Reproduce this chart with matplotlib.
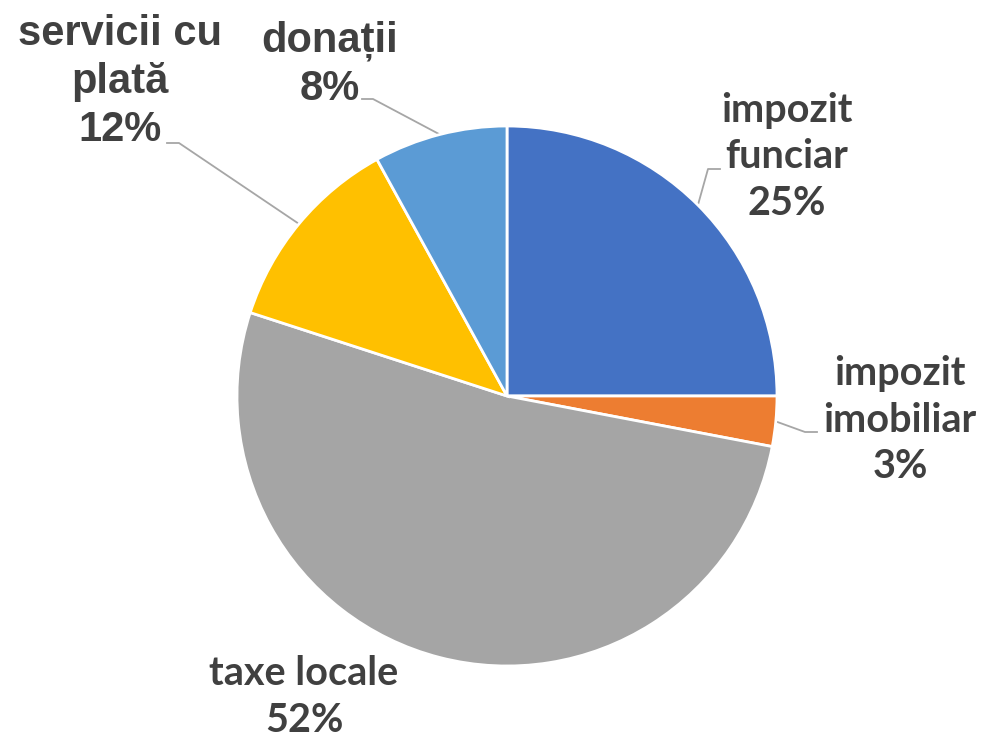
import numpy as np
import matplotlib.pyplot as plt

# data
labels = ["impozit\nfunciar", "impozit\nimobiliar", "taxe locale", "servicii cu\nplată", "donații"]
values = [25, 3, 52, 12, 8]
colors = ["#4472C4", "#ED7D31", "#A5A5A5", "#FFC000", "#5B9BD5"]

# label placement (figure pixel coords, y from top) and leader elbows
label_pos = [(787, 157), (900, 420), (304, 697), (120, 82), (330, 65)]
label_font = ["Lato", "Lato", "Lato", "Liberation Sans", "Liberation Sans"]
label_size = [28.5, 28.5, 28.5, 30, 30]
label_spacing = [1.32, 1.32, 1.32, 1.25, 1.25]
elbows = [[(708, 169), (720, 169)],
          [(805, 432), (817, 432)],
          None,
          [(179, 143), (167, 143)],
          [(373, 99), (362, 99)]]

W, H = 983, 738
fig = plt.figure(figsize=(W / 100, H / 100), dpi=100)
ax = fig.add_axes([0, 0, 1, 1])

cx, cy, r = 507, H - 396, 270
wedges, _ = ax.pie(values, colors=colors, startangle=90, counterclock=False,
                   center=(cx, cy), radius=r, frame=True,
                   wedgeprops=dict(edgecolor="white", linewidth=2))
ax.set_xlim(0, W)
ax.set_ylim(0, H)
ax.set_aspect("equal")
ax.axis("off")

total = sum(values)
for i, w in enumerate(wedges):
    lx, ly = label_pos[i]
    pct = round(values[i] / total * 100)
    ax.text(lx, H - ly, f"{labels[i]}\n{pct}%", ha="center", va="center",
            fontsize=label_size[i], fontweight="bold", color="#404040",
            family=[label_font[i], "DejaVu Sans"], linespacing=label_spacing[i])
    if elbows[i] is None:
        continue
    ang = np.deg2rad((w.theta1 + w.theta2) / 2)
    sx, sy = cx + r * np.cos(ang), cy + r * np.sin(ang)
    xs = [sx] + [p[0] for p in elbows[i]]
    ys = [sy] + [H - p[1] for p in elbows[i]]
    ax.plot(xs, ys, color="#A6A6A6", linewidth=1.3, zorder=0)

fig.savefig("out.png", dpi=100)
